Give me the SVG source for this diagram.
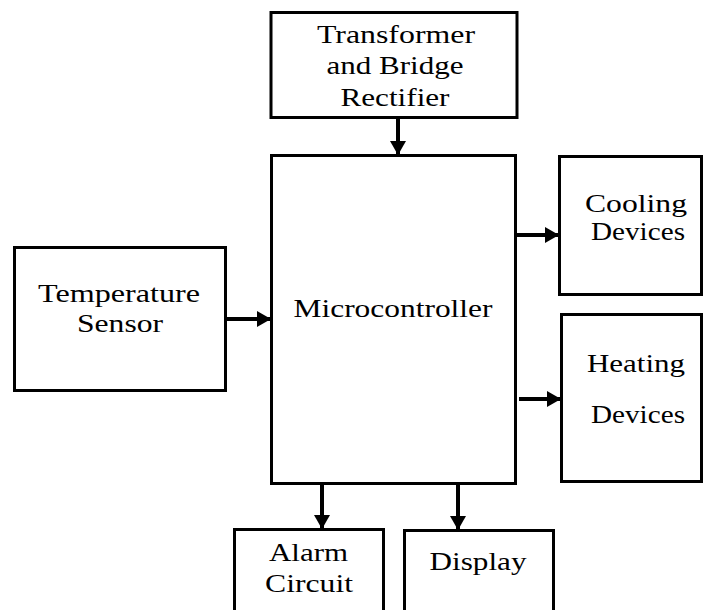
<svg xmlns="http://www.w3.org/2000/svg" width="704" height="610" viewBox="0 0 704 610">
<style>
.box{fill:#fff;stroke:#000;stroke-width:3}
.lbl{font-family:"Liberation Serif","Times New Roman",serif;font-size:25px;fill:#000;text-anchor:middle}
.conn{stroke:#000;stroke-width:4;fill:none}
</style>
<defs>
<marker id="ah" markerUnits="userSpaceOnUse" markerWidth="14" markerHeight="16" refX="13" refY="8" orient="auto">
<path d="M0,0 L14,8 L0,16 Z" fill="#000"/>
</marker>
</defs>
<rect width="704" height="610" fill="#fff"/>
<g id="transformer">
<rect class="box" x="271" y="12.5" width="246" height="105"/>
<text class="lbl" x="396" y="43" textLength="158" lengthAdjust="spacingAndGlyphs">Transformer</text>
<text class="lbl" x="395" y="74" textLength="137" lengthAdjust="spacingAndGlyphs">and Bridge</text>
<text class="lbl" x="395" y="106" textLength="109" lengthAdjust="spacingAndGlyphs">Rectifier</text>
</g>
<g id="microcontroller">
<rect class="box" x="271.5" y="155.5" width="244" height="328"/>
<text class="lbl" x="393" y="317" textLength="199" lengthAdjust="spacingAndGlyphs">Microcontroller</text>
</g>
<g id="sensor">
<rect class="box" x="14.5" y="247.5" width="211" height="143"/>
<text class="lbl" x="119" y="302" textLength="162" lengthAdjust="spacingAndGlyphs">Temperature</text>
<text class="lbl" x="120" y="332" textLength="86" lengthAdjust="spacingAndGlyphs">Sensor</text>
</g>
<g id="cooling">
<rect class="box" x="559.5" y="156.5" width="142" height="138"/>
<text class="lbl" x="636" y="212" textLength="102" lengthAdjust="spacingAndGlyphs">Cooling</text>
<text class="lbl" x="638" y="240" textLength="94" lengthAdjust="spacingAndGlyphs">Devices</text>
</g>
<g id="heating">
<rect class="box" x="561.5" y="314.5" width="140" height="167"/>
<text class="lbl" x="636" y="372" textLength="98" lengthAdjust="spacingAndGlyphs">Heating</text>
<text class="lbl" x="638" y="423" textLength="94" lengthAdjust="spacingAndGlyphs">Devices</text>
</g>
<g id="alarm">
<rect class="box" x="234.5" y="529.5" width="149" height="100"/>
<text class="lbl" x="308.5" y="561" textLength="79" lengthAdjust="spacingAndGlyphs">Alarm</text>
<text class="lbl" x="309" y="592" textLength="88" lengthAdjust="spacingAndGlyphs">Circuit</text>
</g>
<g id="display">
<rect class="box" x="404.5" y="530.5" width="149" height="100"/>
<text class="lbl" x="478" y="570" textLength="97" lengthAdjust="spacingAndGlyphs">Display</text>
</g>
<g id="connectors">
<line class="conn" x1="398" y1="119" x2="398" y2="154" marker-end="url(#ah)"/>
<line class="conn" x1="227" y1="319" x2="270" y2="319" marker-end="url(#ah)"/>
<line class="conn" x1="517" y1="235" x2="558" y2="235" marker-end="url(#ah)"/>
<line class="conn" x1="519" y1="399" x2="560" y2="399" marker-end="url(#ah)"/>
<line class="conn" x1="322" y1="485" x2="322" y2="528" marker-end="url(#ah)"/>
<line class="conn" x1="458" y1="485" x2="458" y2="529" marker-end="url(#ah)"/>
</g>
</svg>
